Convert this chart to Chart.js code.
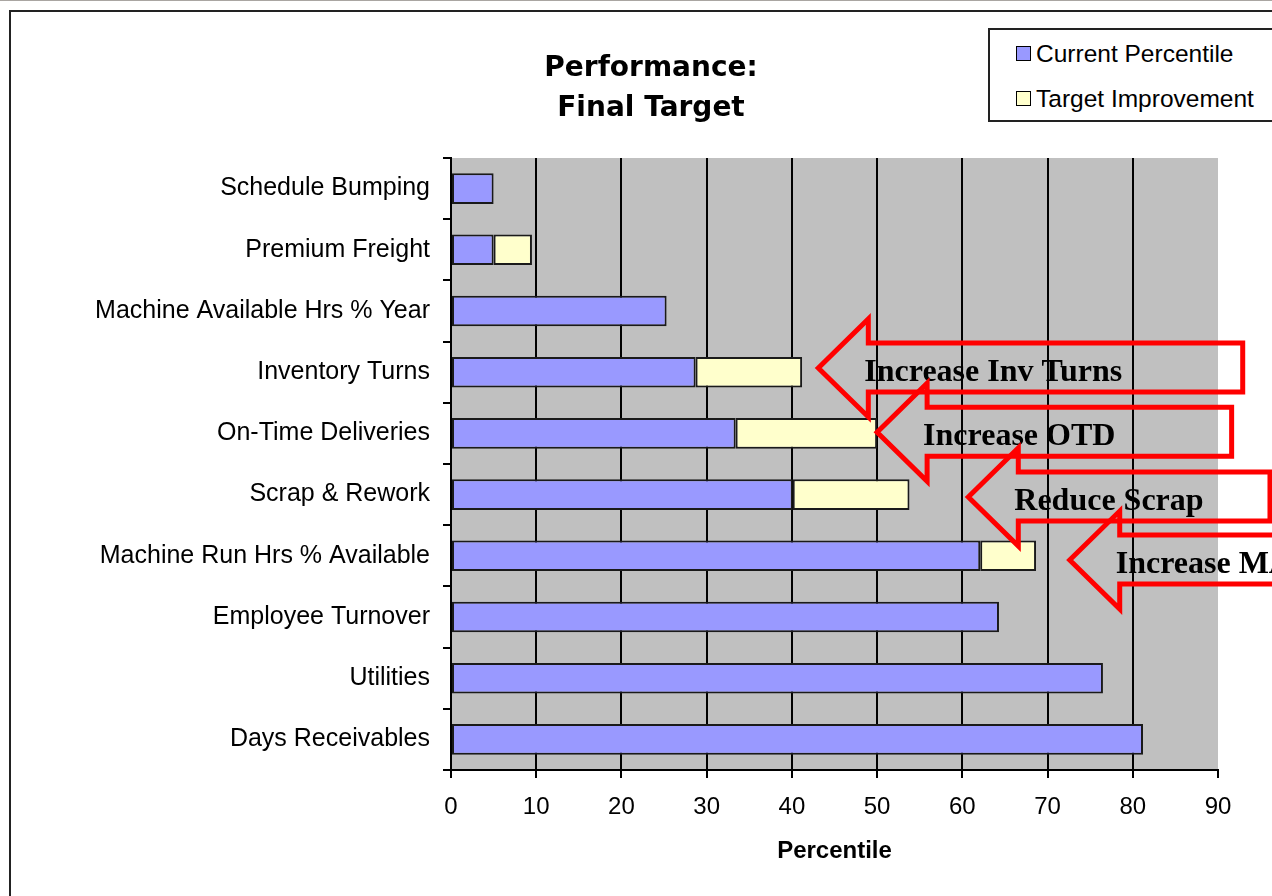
<!DOCTYPE html>
<html lang="en">
<head>
    <meta charset="UTF-8">
    <title>Performance: Final Target</title>
    <script src="https://cdn.jsdelivr.net/npm/chart.js"></script>
    <style>
        body {
            margin: 0;
            background: #fff;
            overflow: hidden;
            width: 1272px;
            height: 896px;
            position: relative;
            font-family: 'Liberation Sans', Arial, sans-serif;
        }

        .topline {
            position: absolute;
            left: 0;
            top: 0;
            width: 1272px;
            height: 1px;
            background: #aaa6a2;
        }

        .frame {
            position: absolute;
            left: 9px;
            top: 10px;
            width: 1280px;
            height: 884px;
            border: 2px solid #222;
        }

        .legend {
            position: absolute;
            left: 988px;
            top: 28px;
            width: 320px;
            height: 90px;
            border: 2px solid #222;
            background: #fff;
        }

        .legend-item {
            position: absolute;
            left: 26px;
            font-size: 24.5px;
            color: #000;
            line-height: 28px;
            white-space: nowrap;
        }

        .legend-item span {
            display: inline-block;
            width: 13px;
            height: 13px;
            border: 1.5px solid #000;
            margin-right: 5px;
            vertical-align: 1px;
        }
    </style>
</head>
<body>

<div class="topline"></div>
<div class="frame">
    <canvas id="perfChart" width="1280" height="884"></canvas>
</div>
<div class="legend" id="legendBox"></div>

<script>
    // chart data
    const categories = [
        'Schedule Bumping',
        'Premium Freight',
        'Machine Available Hrs % Year',
        'Inventory Turns',
        'On-Time Deliveries',
        'Scrap & Rework',
        'Machine Run Hrs % Available',
        'Employee Turnover',
        'Utilities',
        'Days Receivables'
    ];
    const currentPercentile = [5.0, 5.0, 25.3, 28.7, 33.4, 40.1, 62.1, 64.3, 76.5, 81.2];
    const targetImprovement = [0, 4.5, 0, 12.5, 16.6, 13.7, 6.55, 0, 0, 0];
    const xTicks = [0, 10, 20, 30, 40, 50, 60, 70, 80, 90];

    // red arrow call-outs: category (index), tip value, right end value
    const noteTexts = ['Increase Inv Turns', 'Increase OTD', 'Reduce Scrap', 'Increase MA'];
    const noteCategory = [2.93, 3.98, 5.04, 6.07];
    const noteTip = [43.1, 50.0, 60.7, 72.6];
    const noteEnd = [92.9, 91.6, 96.1, 100];

    const BLACK = '#000';

    // grey plot background
    const plotBackground = {
        id: 'plotBackground',
        beforeDraw(chart) {
            const {ctx, chartArea} = chart;
            ctx.save();
            ctx.fillStyle = '#c0c0c0';
            ctx.fillRect(chartArea.left, chartArea.top, chartArea.right - chartArea.left, chartArea.bottom - chartArea.top);
            ctx.restore();
        }
    };

    // arrows drawn on top of the bars
    const arrowNotes = {
        id: 'arrowNotes',
        afterDatasetsDraw(chart) {
            const {ctx} = chart;
            const xs = chart.scales.x;
            const ys = chart.scales.y;
            ctx.save();
            for (let i = 0; i < noteTexts.length; i++) {
                const tx = xs.getPixelForValue(noteTip[i]);
                const ty = ys.getPixelForValue(noteCategory[i]);
                const ex = xs.getPixelForValue(noteEnd[i]);
                const hx = tx + 50;
                ctx.beginPath();
                ctx.moveTo(tx, ty);
                ctx.lineTo(hx, ty - 49);
                ctx.lineTo(hx, ty - 25);
                ctx.lineTo(ex, ty - 25);
                ctx.lineTo(ex, ty + 24);
                ctx.lineTo(hx, ty + 24);
                ctx.lineTo(hx, ty + 49);
                ctx.closePath();
                ctx.lineWidth = 5;
                ctx.lineJoin = 'miter';
                ctx.strokeStyle = '#ff0000';
                ctx.stroke();

                ctx.fillStyle = BLACK;
                ctx.font = 'bold 32px "Liberation Serif", "Times New Roman", serif';
                ctx.textAlign = 'left';
                ctx.textBaseline = 'alphabetic';
                ctx.fillText(noteTexts[i], hx - 4, ty + 13);
            }
            ctx.restore();
        }
    };

    function createChart() {
        const ctx = document.getElementById('perfChart').getContext('2d');
        const chart = new Chart(ctx, {
            type: 'bar',
            data: {
                labels: categories,
                datasets: [
                    {
                        label: 'Current Percentile',
                        data: currentPercentile,
                        backgroundColor: '#9999ff',
                        borderColor: '#1a1a1a',
                        borderWidth: 2,
                        borderSkipped: false,
                        barPercentage: 0.5,
                        categoryPercentage: 1
                    },
                    {
                        label: 'Target Improvement',
                        data: targetImprovement,
                        backgroundColor: '#ffffcc',
                        borderColor: '#1a1a1a',
                        borderWidth: 2,
                        borderSkipped: false,
                        barPercentage: 0.5,
                        categoryPercentage: 1
                    }
                ]
            },
            options: {
                indexAxis: 'y',
                responsive: false,
                animation: false,
                events: [],
                layout: {
                    // same padding both sides so the title sits in the middle of the frame
                    padding: {left: 73, right: 73, top: 0, bottom: 29}
                },
                scales: {
                    x: {
                        stacked: true,
                        min: 0,
                        max: 90,
                        afterBuildTicks(scale) {
                            scale.ticks = xTicks.map(v => ({value: v}));
                        },
                        afterFit(scale) {
                            scale.height = 97;
                        },
                        grid: {
                            color: c => (c.tick && c.tick.value === 90) ? 'rgba(0,0,0,0)' : BLACK,
                            tickColor: BLACK,
                            lineWidth: 2,
                            tickLength: 8
                        },
                        border: {display: true, color: BLACK, width: 2},
                        ticks: {
                            color: BLACK,
                            padding: 15,
                            font: {family: '"Liberation Sans", Arial, sans-serif', size: 24}
                        },
                        title: {
                            display: true,
                            text: 'Percentile',
                            color: BLACK,
                            padding: {top: 15, bottom: 1},
                            font: {family: '"Liberation Sans", Arial, sans-serif', size: 24, weight: 'bold'}
                        }
                    },
                    y: {
                        stacked: true,
                        afterFit(scale) {
                            scale.width = 367;
                        },
                        grid: {
                            drawOnChartArea: false,
                            drawTicks: true,
                            tickLength: 8,
                            tickColor: BLACK,
                            lineWidth: 2
                        },
                        border: {display: true, color: BLACK, width: 2},
                        ticks: {
                            color: BLACK,
                            padding: 13,
                            autoSkip: false,
                            font: {family: '"Liberation Sans", Arial, sans-serif', size: 25}
                        }
                    }
                },
                plugins: {
                    legend: {display: false},
                    tooltip: {enabled: false},
                    title: {
                        display: true,
                        text: ['Performance:', 'Final Target'],
                        color: BLACK,
                        padding: {top: 37, bottom: 29},
                        font: {family: '"DejaVu Sans", sans-serif', size: 28, weight: 'bold', lineHeight: '40px'}
                    }
                }
            },
            plugins: [plotBackground, arrowNotes]
        });
        return chart;
    }

    // html legend with a frame, built from the datasets
    function buildLegend(chart) {
        const box = document.getElementById('legendBox');
        const tops = [10, 55];
        chart.data.datasets.forEach((ds, i) => {
            const item = document.createElement('div');
            item.className = 'legend-item';
            item.style.top = tops[i] + 'px';
            item.innerHTML = '<span style="background:' + ds.backgroundColor + '"></span>' + ds.label;
            box.appendChild(item);
        });
    }

    window.onload = function() {
        const chart = createChart();
        buildLegend(chart);
    };
</script>

</body>
</html>
